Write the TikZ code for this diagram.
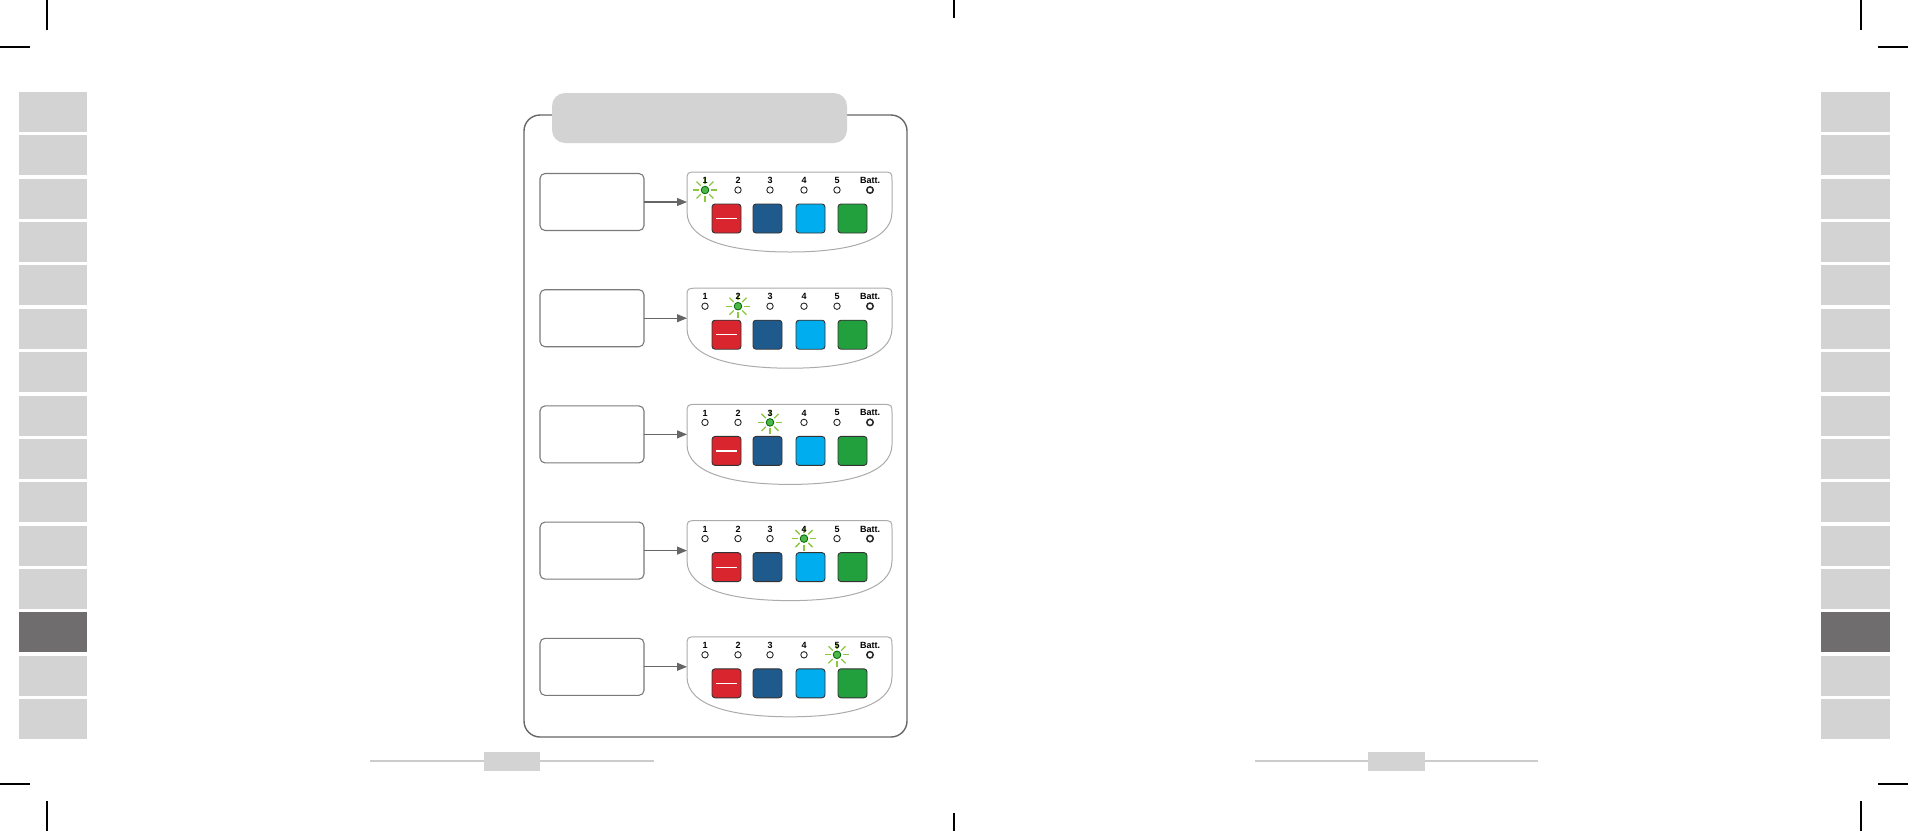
\documentclass[tikz,border=0pt]{standalone}
\usepackage{fontspec}
\newfontfamily\lblfont{Liberation Sans}
\usetikzlibrary{arrows.meta,calc}
\definecolor{tabgray}{HTML}{D3D3D3}
\definecolor{tabdark}{HTML}{6F6D6D}
\definecolor{btnred}{HTML}{D9252E}
\definecolor{btnnavy}{HTML}{1F5A8C}
\definecolor{btnsky}{HTML}{00AEEF}
\definecolor{btngreen}{HTML}{21A03D}
\definecolor{ledgreen}{HTML}{4DB848}
\definecolor{raygreen}{HTML}{8DC63F}
\definecolor{panelline}{HTML}{666666}
\definecolor{boxline}{HTML}{7A7A7A}
\definecolor{devline}{HTML}{ABABAB}
\definecolor{footline}{HTML}{CCCCCC}
\begin{document}
\begin{tikzpicture}[x=1pt,y=-1pt,
  crop/.style={line width=1.3pt,black},
  sidetab/.style={fill=tabgray,draw=none},
  msgbox/.style={draw=boxline,line width=1.1pt,rounded corners=5pt,fill=white,
    minimum width=104pt,minimum height=57pt,inner sep=0pt,outer sep=0pt},
  conn/.style={draw=panelline,line width=1.1pt,-{Triangle[length=10pt,width=8pt]}},
  devpanel/.style={draw=devline,line width=1pt,fill=white},
  btn/.style={draw=black!80,line width=0.9pt,rounded corners=3pt},
  digit/.style={font=\lblfont\bfseries\fontsize{9}{9}\selectfont,inner sep=0pt,text=black},
  ledoff/.style={draw=black!85,line width=0.9pt,fill=white},
  ledon/.style={draw=green!40!black,line width=0.8pt,fill=ledgreen},
  ray/.style={draw=raygreen,line width=1.3pt},
  footer/.style={draw=footline,line width=1.4pt}]
\useasboundingbox (0,0) rectangle (1908,831);
% crop marks
\draw[crop] (47,0) -- (47,30);
\draw[crop] (0,47) -- (30,47);
\draw[crop] (0,784) -- (30,784);
\draw[crop] (47,801) -- (47,831);
\draw[crop] (954,0) -- (954,18);
\draw[crop] (954,813) -- (954,831);
\draw[crop] (1861,0) -- (1861,30);
\draw[crop] (1878,47) -- (1908,47);
\draw[crop] (1878,784) -- (1908,784);
\draw[crop] (1861,801) -- (1861,831);
% side tabs
\foreach \i in {0,...,14}{
  \pgfmathsetmacro\ty{92+\i*43.36}
  \ifnum\i=12
    \fill[tabdark] (19,\ty) rectangle (87,\ty+40);
    \fill[tabdark] (1821,\ty) rectangle (1890,\ty+40);
  \else
    \fill[tabgray] (19,\ty) rectangle (87,\ty+40);
    \fill[tabgray] (1821,\ty) rectangle (1890,\ty+40);
  \fi
}
% footers
\draw[footer] (370,761) -- (654,761);
\fill[tabgray] (484,752) rectangle (540,771);
\draw[footer] (1255,761) -- (1538,761);
\fill[tabgray] (1368,752) rectangle (1425,771);
% main panel
\draw[panelline,line width=1.4pt,rounded corners=16pt] (524,115) rectangle (907,737);
\fill[tabgray,rounded corners=13pt] (552,93) rectangle (847,143);
% rows
\foreach \k in {1,...,5}{
  \pgfmathsetmacro\dy{(\k-1)*116.2}
  \begin{scope}[shift={(0,\dy)}]
    \node[msgbox] (box\k) at (592,202) {};
    \draw[devpanel] (687,212) -- (687,182) .. controls (687,172) .. (697,172)
      -- (882,172) .. controls (892,172) .. (892,182) -- (892,212)
      .. controls (892,242) and (845,252) .. (790,252)
      .. controls (735,252) and (687,242) .. (687,212) -- cycle;
    \coordinate (dev\k) at (687,202);
    \draw[conn] (box\k.east) -- (dev\k);
    % leds and labels
    \foreach \n/\x in {1/705,2/738,3/770,4/804,5/837}{
      \ifnum\n=\k\relax
        \foreach \a in {0,45,...,315}{
          \draw[ray] (\x,190) ++(\a:6) -- ++(\a:6);
        }
        \draw[ledon] (\x,190) circle (3.8);
      \else
        \draw[ledoff] (\x,190) circle (3.2);
      \fi
      \node[digit] at (\x,180.5) {\n};
    }
    \node[digit] at (870,180.5) {Batt.};
    \draw[ledoff,line width=1.5pt] (870,190) circle (3.2);
    % buttons
    \draw[btn,fill=btnred] (712,204) rectangle (741,233);
    \draw[white,line width=1.2pt] (716,218.5) -- (737,218.5);
    \draw[btn,fill=btnnavy] (753,204) rectangle (782,233);
    \draw[btn,fill=btnsky] (796,204) rectangle (825,233);
    \draw[btn,fill=btngreen] (838,204) rectangle (867,233);
  \end{scope}
}
\end{tikzpicture}
\end{document}
